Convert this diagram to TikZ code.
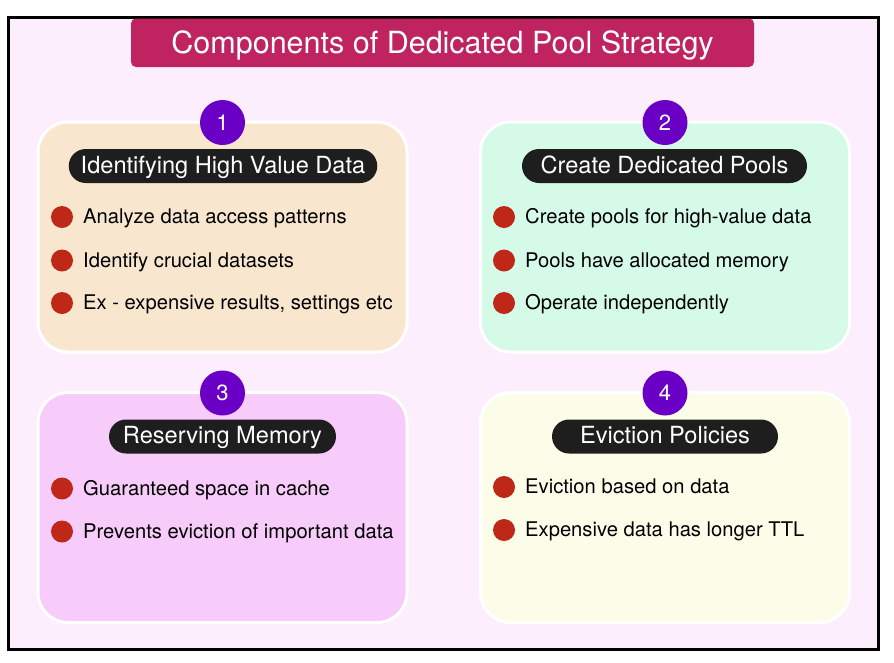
\documentclass[tikz,border=0pt]{standalone}
\usepackage{fontspec}
\setmainfont{TeX Gyre Heros}
\definecolor{bgpink}{HTML}{FCEEFC}
\definecolor{titlered}{HTML}{C02460}
\definecolor{badgepurple}{HTML}{6A00C6}
\definecolor{pillblack}{HTML}{1E1E1E}
\definecolor{dotred}{HTML}{BF2718}
\definecolor{peach}{HTML}{F9E6CF}
\definecolor{mint}{HTML}{D5FAE8}
\definecolor{orchid}{HTML}{F7CCFA}
\definecolor{cream}{HTML}{FCFDE8}
\begin{document}
\begin{tikzpicture}[x=1pt,y=-1pt,
  frame/.style={draw=black, line width=3pt, fill=bgpink, minimum width=870pt, minimum height=632pt, inner sep=0pt},
  titlebox/.style={fill=titlered, rounded corners=5pt, text=white, font=\fontsize{30.5}{36}\selectfont,
    minimum width=623pt, minimum height=48.5pt, inner sep=0pt, text height=22pt, text depth=0pt},
  panel/.style={draw=white, line width=3pt, rounded corners=30pt, minimum width=369pt, minimum height=230pt, inner sep=0pt},
  badge/.style={circle, fill=badgepurple, text=white, minimum size=45pt, inner sep=0pt,
    font=\fontsize{22}{26}\selectfont, text height=15.8pt, text depth=0pt},
  pill/.style={fill=pillblack, text=white, rounded corners=17pt, minimum height=34pt, inner xsep=12pt, inner ysep=0pt,
    font=\fontsize{23.6}{28}\selectfont, text height=17pt, text depth=2.4pt},
  dot/.style={circle, fill=dotred, minimum size=22pt, inner sep=0pt},
  item/.style={anchor=base west, inner sep=0pt, font=\fontsize{20.2}{24}\selectfont, text=black}
]
\useasboundingbox (0,0) rectangle (894,662);

% outer frame and title banner
\node[frame] (frame) at (443,333) {};
\node[titlebox] (title) at (442.5,42.75) {Components of Dedicated Pool Strategy};

% panel 1
\node[panel, fill=peach] (p1) at (222.5,237) {};
\node[badge] (b1) at (222.5,122.5) {1};
\node[pill, minimum width=308pt] (h1) at (223,166) {Identifying High Value Data};
\node[dot] (d11) at (62,217) {};
\node[item] (t11) at (83,223.5) {Analyze data access patterns};
\node[dot] (d12) at (62,260.5) {};
\node[item] (t12) at (83,267) {Identify crucial datasets};
\node[dot] (d13) at (62,303) {};
\node[item] (t13) at (83,309.5) {Ex - expensive results, settings etc};

% panel 2
\node[panel, fill=mint] (p2) at (665,237) {};
\node[badge] (b2) at (665,122.5) {2};
\node[pill, minimum width=285pt] (h2) at (664.5,166) {Create Dedicated Pools};
\node[dot] (d21) at (504,217) {};
\node[item] (t21) at (525,223.5) {Create pools for high-value data};
\node[dot] (d22) at (504,260.5) {};
\node[item] (t22) at (525,267) {Pools have allocated memory};
\node[dot] (d23) at (504,303) {};
\node[item] (t23) at (525,309.5) {Operate independently};

% panel 3
\node[panel, fill=orchid] (p3) at (222.5,507.5) {};
\node[badge] (b3) at (222.5,393) {3};
\node[pill, minimum width=227pt] (h3) at (222.5,436.5) {Reserving Memory};
\node[dot] (d31) at (62,488.5) {};
\node[item] (t31) at (83,495) {Guaranteed space in cache};
\node[dot] (d32) at (62,531.5) {};
\node[item] (t32) at (83,538) {Prevents eviction of important data};

% panel 4
\node[panel, fill=cream] (p4) at (665,507.5) {};
\node[badge] (b4) at (665,393) {4};
\node[pill, minimum width=226pt] (h4) at (665,436.5) {Eviction Policies};
\node[dot] (d41) at (504,487) {};
\node[item] (t41) at (525,493.5) {Eviction based on data};
\node[dot] (d42) at (504,530) {};
\node[item] (t42) at (525,536.5) {Expensive data has longer TTL};
\end{tikzpicture}
\end{document}
